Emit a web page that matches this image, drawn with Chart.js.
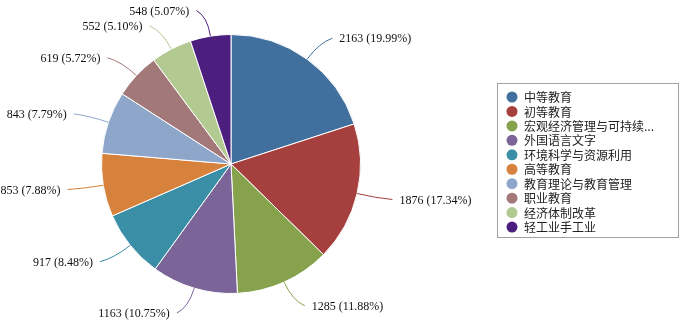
<!DOCTYPE html>
<html>
<head>
<meta charset="utf-8">
<script src="https://cdn.jsdelivr.net/npm/chart.js@4/dist/chart.umd.min.js"></script>
<style>
    html, body { margin: 0; padding: 0; background: #fff; }
    #wrap { width: 686px; height: 324px; position: relative; }
</style>
</head>
<body>
<div id="wrap"><canvas id="pie"></canvas></div>
<script>
// data
const categories = ['中等教育', '初等教育', '宏观经济管理与可持续...', '外国语言文字', '环境科学与资源利用',
    '高等教育', '教育理论与教育管理', '职业教育', '经济体制改革', '轻工业手工业'];
const counts = [2163, 1876, 1285, 1163, 917, 853, 843, 619, 552, 548];
const percents = ['19.99%', '17.34%', '11.88%', '10.75%', '8.48%', '7.88%', '7.79%', '5.72%', '5.10%', '5.07%'];
const colors = ['#41709f', '#a5403e', '#87a24d', '#7b6598', '#3a8fa7', '#d6813c', '#8fa6cb', '#a27978', '#b2c991', '#4c1f7f'];

const labelFont = '12px "Liberation Serif", "Noto Sans CJK SC", serif';
const legendFont = '12px "Noto Sans CJK SC", "Liberation Serif", serif';

// leader lines and value labels around the pie
const outsideLabels = {
    id: 'outsideLabels',
    afterDatasetsDraw(chart) {
        const ctx = chart.ctx;
        const meta = chart.getDatasetMeta(0);
        ctx.save();
        ctx.font = labelFont;
        ctx.textBaseline = 'middle';
        meta.data.forEach((arc, i) => {
            const mid = (arc.startAngle + arc.endAngle) / 2;
            const r = arc.outerRadius;
            const cx = arc.x, cy = arc.y;
            const cos = Math.cos(mid), sin = Math.sin(mid);
            const side = cos >= 0 ? 1 : -1;
            const sx = cx + cos * r, sy = cy + sin * r;
            const qx = cx + cos * (r + 20), qy = cy + sin * (r + 20);
            const ex = cx + cos * (r + 26) + side * 10, ey = cy + sin * (r + 26);
            ctx.strokeStyle = colors[i];
            ctx.lineWidth = 1;
            ctx.beginPath();
            ctx.moveTo(sx, sy);
            ctx.quadraticCurveTo(qx, qy, ex, ey);
            ctx.stroke();
            ctx.fillStyle = '#111';
            ctx.textAlign = side > 0 ? 'left' : 'right';
            ctx.fillText(counts[i] + ' (' + percents[i] + ')', ex + side * 7, ey + 1);
        });
        ctx.restore();
    }
};

// boxed legend on the right
const boxLegend = {
    id: 'boxLegend',
    afterDraw(chart) {
        const ctx = chart.ctx;
        const x0 = 497.5, y0 = 83.5, w = 181, h = 154;
        ctx.save();
        ctx.strokeStyle = '#a0a0a0';
        ctx.lineWidth = 1;
        ctx.strokeRect(x0, y0, w, h);
        ctx.font = legendFont;
        ctx.textBaseline = 'middle';
        ctx.textAlign = 'left';
        categories.forEach((name, i) => {
            const y = 97 + i * 14.45;
            ctx.fillStyle = colors[i];
            ctx.beginPath();
            ctx.arc(512, y, 5.5, 0, Math.PI * 2);
            ctx.fill();
            ctx.fillStyle = '#222';
            ctx.fillText(name, 524, y + 0.5);
        });
        ctx.restore();
    }
};

new Chart(document.getElementById('pie'), {
    type: 'pie',
    data: {
        labels: categories,
        datasets: [{
            data: counts,
            backgroundColor: colors,
            borderColor: '#ffffff',
            borderWidth: 1
        }]
    },
    options: {
        responsive: true,
        maintainAspectRatio: false,
        animation: false,
        layout: { padding: { left: 101, right: 325, top: 34, bottom: 30 } },
        plugins: {
            legend: { display: false },
            tooltip: { enabled: false }
        }
    },
    plugins: [outsideLabels, boxLegend]
});
</script>
</body>
</html>
